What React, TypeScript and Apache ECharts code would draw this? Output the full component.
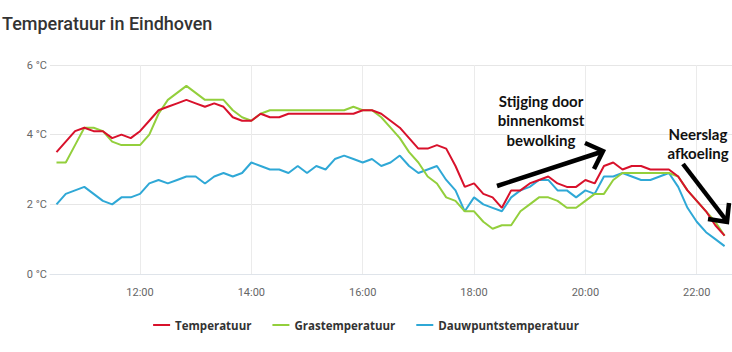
import React, { useEffect, useRef } from "react";
import * as echarts from "echarts";

const START_MINUTES = 10 * 60 + 30; // 10:30
const STEP_MINUTES = 10;

const temperatuur = [
  3.5, 3.8, 4.1, 4.2, 4.1, 4.1, 3.9, 4.0, 3.9, 4.1,
  4.4, 4.7, 4.8, 4.9, 5.0, 4.9, 4.8, 4.9, 4.8, 4.5,
  4.4, 4.4, 4.6, 4.5, 4.5, 4.6, 4.6, 4.6, 4.6, 4.6,
  4.6, 4.6, 4.6, 4.7, 4.7, 4.6, 4.4, 4.2, 3.9, 3.6,
  3.6, 3.7, 3.6, 3.1, 2.5, 2.6, 2.3, 2.2, 1.9, 2.4,
  2.4, 2.6, 2.7, 2.8, 2.6, 2.5, 2.5, 2.7, 2.6, 3.1,
  3.2, 3.0, 3.1, 3.1, 3.0, 3.0, 3.0, 2.8, 2.4, 2.1,
  1.8, 1.4, 1.1,
];

const grastemperatuur = [
  3.2, 3.2, 3.7, 4.2, 4.2, 4.1, 3.8, 3.7, 3.7, 3.7,
  4.0, 4.6, 5.0, 5.2, 5.4, 5.2, 5.0, 5.0, 5.0, 4.7,
  4.5, 4.4, 4.6, 4.7, 4.7, 4.7, 4.7, 4.7, 4.7, 4.7,
  4.7, 4.7, 4.8, 4.7, 4.7, 4.5, 4.2, 3.9, 3.5, 3.2,
  2.8, 2.6, 2.2, 2.1, 1.8, 1.8, 1.5, 1.3, 1.4, 1.4,
  1.8, 2.0, 2.2, 2.2, 2.1, 1.9, 1.9, 2.1, 2.3, 2.3,
  2.7, 2.9, 2.9, 2.9, 2.9, 2.9, 2.9, 2.8, 2.4, 2.1,
  1.8, 1.5, 1.1,
];

const dauwpuntstemperatuur = [
  2.0, 2.3, 2.4, 2.5, 2.3, 2.1, 2.0, 2.2, 2.2, 2.3,
  2.6, 2.7, 2.6, 2.7, 2.8, 2.8, 2.6, 2.8, 2.9, 2.8,
  2.9, 3.2, 3.1, 3.0, 3.0, 2.9, 3.1, 2.9, 3.1, 3.0,
  3.3, 3.4, 3.3, 3.2, 3.3, 3.1, 3.2, 3.4, 3.1, 2.9,
  3.0, 3.1, 2.7, 2.4, 1.8, 2.2, 2.0, 1.9, 1.8, 2.2,
  2.4, 2.5, 2.7, 2.7, 2.4, 2.4, 2.2, 2.4, 2.3, 2.8,
  2.8, 2.9, 2.8, 2.7, 2.7, 2.8, 2.9, 2.5, 1.9, 1.5,
  1.2, 1.0, 0.8,
];

const xTickMinutes = [720, 840, 960, 1080, 1200, 1320];
const yTicks = [0, 2, 4, 6];

const seriesNames = ["Temperatuur", "Grastemperatuur", "Dauwpuntstemperatuur"];
const seriesColors = ["#d8112b", "#93cf3c", "#2fa8d6"];

const annotation1 = "Stijging door\nbinnenkomst\nbewolking";
const annotation2 = "Neerslag\nafkoeling";

function fmtTime(m: number): string {
  const h = Math.floor(m / 60);
  const mm = Math.round(m % 60);
  return `${h}:${mm < 10 ? "0" + mm : mm}`;
}

function toPairs(values: number[]): [number, number][] {
  return values.map((v, i) => [START_MINUTES + i * STEP_MINUTES, v]);
}

export default function App() {
  const ref = useRef<HTMLDivElement>(null);

  useEffect(() => {
    if (!ref.current) return;
    const chart = echarts.init(ref.current, null, { renderer: "svg" });
    const allData = [temperatuur, grastemperatuur, dauwpuntstemperatuur];

    chart.setOption({
      animation: false,
      backgroundColor: "#ffffff",
      title: {
        text: "Temperatuur in Eindhoven",
        left: -3,
        top: 9,
        textStyle: {
          fontFamily: "Roboto",
          fontSize: 18,
          fontWeight: 500,
          color: "#333333",
        },
      },
      legend: {
        data: seriesNames,
        left: "center",
        top: 314,
        icon: "rect",
        itemWidth: 17,
        itemHeight: 2,
        itemGap: 21,
        textStyle: {
          fontFamily: "Open Sans",
          fontSize: 11.5,
          fontWeight: "bold",
          color: "#333333",
        },
      },
      grid: { left: 50, right: 0, top: 65, bottom: 78, containLabel: false },
      xAxis: {
        type: "value",
        min: 623,
        max: 1358,
        axisLine: { show: true, lineStyle: { color: "#dfe4ea", width: 1 } },
        axisTick: { show: false, customValues: xTickMinutes },
        axisLabel: {
          customValues: xTickMinutes,
          formatter: (v: number) => fmtTime(v),
          color: "#666666",
          fontFamily: "Roboto",
          fontSize: 11,
          margin: 13,
        },
        splitLine: { show: true, lineStyle: { color: "#ebebeb", width: 1 } },
      },
      yAxis: {
        type: "value",
        min: yTicks[0],
        max: yTicks[yTicks.length - 1],
        interval: 2,
        axisLine: { show: false },
        axisTick: { show: false },
        axisLabel: {
          formatter: (v: number) => `${v} °C`,
          color: "#666666",
          fontFamily: "Roboto",
          fontSize: 11,
          margin: 3,
        },
        splitLine: { show: true, lineStyle: { color: "#e6e6e6", width: 1 } },
      },
      series: seriesNames.map((name, k) => ({
        name,
        type: "line",
        data: toPairs(allData[k]),
        symbol: "none",
        lineStyle: { color: seriesColors[k], width: 2 },
        itemStyle: { color: seriesColors[k] },
        z: 3 - k,
      })),
      graphic: [
        {
          type: "text",
          x: 541,
          y: 91,
          z: 100,
          style: {
            text: annotation1,
            fontFamily: "Lato",
            fontWeight: "bold",
            fontSize: 15,
            lineHeight: 19.5,
            fill: "#111111",
            align: "center",
            verticalAlign: "top",
          },
        },
        {
          type: "text",
          x: 698,
          y: 124,
          z: 100,
          style: {
            text: annotation2,
            fontFamily: "Lato",
            fontWeight: "bold",
            fontSize: 15,
            lineHeight: 19.5,
            fill: "#111111",
            align: "center",
            verticalAlign: "top",
          },
        },
        {
          type: "line",
          z: 100,
          shape: { x1: 497, y1: 186, x2: 601, y2: 152 },
          style: { stroke: "#000000", lineWidth: 4.5 },
        },
        {
          type: "polyline",
          z: 100,
          shape: { points: [[585, 143], [603, 151], [594, 169]] },
          style: { stroke: "#000000", lineWidth: 4.5, fill: null, lineJoin: "miter" },
        },
        {
          type: "line",
          z: 100,
          shape: { x1: 683, y1: 164, x2: 726, y2: 220 },
          style: { stroke: "#000000", lineWidth: 4.5 },
        },
        {
          type: "polyline",
          z: 100,
          shape: { points: [[708, 219], [727, 222], [729, 203]] },
          style: { stroke: "#000000", lineWidth: 4.5, fill: null, lineJoin: "miter" },
        },
      ],
    });

    return () => chart.dispose();
  }, []);

  return (
    <div
      ref={ref}
      style={{ position: "fixed", left: 0, top: 0, width: 732, height: 352 }}
    />
  );
}
